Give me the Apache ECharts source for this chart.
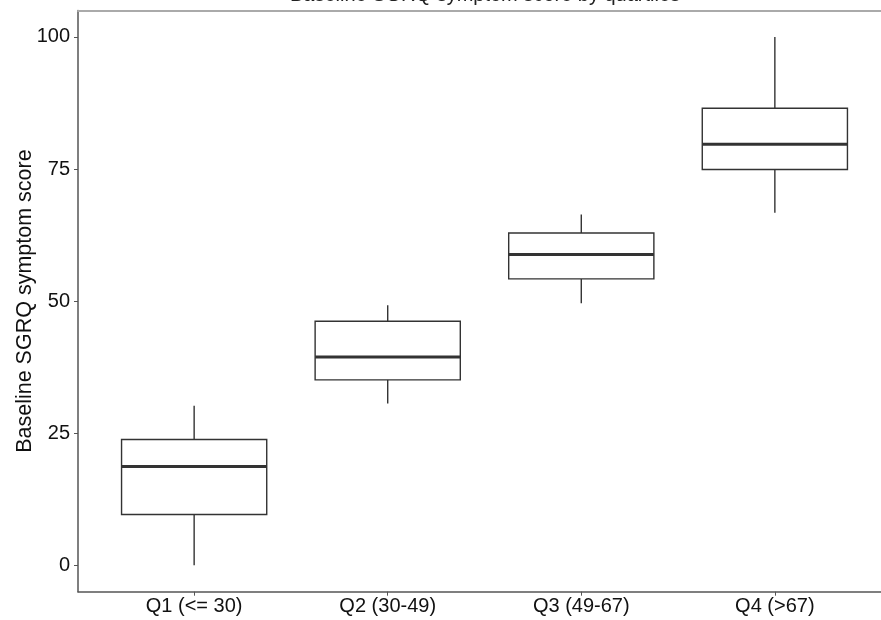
<html>
<head>
<meta charset="utf-8">
<title>Baseline SGRQ symptom score by quartiles</title>
<script src="https://cdn.jsdelivr.net/npm/echarts@6/dist/echarts.min.js"></script>
<style>
  body { margin: 0; background: #fff; }
  #container { width: 881px; height: 620px; }
</style>
</head>
<body>
<div id="container"></div>
<script type="text/javascript">
// data
var categories = ['Q1 (<= 30)', 'Q2 (30-49)', 'Q3 (49-67)', 'Q4 (>67)'];
var lowWhisker = [0, 30.6, 49.6, 66.7];
var boxLow = [9.6, 35.1, 54.2, 74.9];
var medians = [18.7, 39.4, 58.8, 79.7];
var boxHigh = [23.8, 46.2, 62.9, 86.5];
var highWhisker = [30.2, 49.2, 66.4, 100];
var yTicks = [0, 25, 50, 75, 100];

var rows = categories.map(function (c, i) {
  return [i + 1, lowWhisker[i], boxLow[i], medians[i], boxHigh[i], highWhisker[i]];
});

var font = "'Liberation Sans', Arial, sans-serif";
var dom = document.getElementById('container');
var myChart = echarts.init(dom);

function renderBox(params, api) {
  var x = api.value(0);
  var w = api.size([0.75, 0])[0];
  var pMin = api.coord([x, api.value(1)]);
  var pQ1 = api.coord([x, api.value(2)]);
  var pMed = api.coord([x, api.value(3)]);
  var pQ3 = api.coord([x, api.value(4)]);
  var pMax = api.coord([x, api.value(5)]);
  var lineStyle = { stroke: '#333', lineWidth: 1.4, fill: null };
  return {
    type: 'group',
    children: [
      { type: 'line', shape: { x1: pMin[0], y1: pMin[1], x2: pQ1[0], y2: pQ1[1] }, style: lineStyle },
      { type: 'line', shape: { x1: pQ3[0], y1: pQ3[1], x2: pMax[0], y2: pMax[1] }, style: lineStyle },
      { type: 'rect', shape: { x: pQ3[0] - w / 2, y: pQ3[1], width: w, height: pQ1[1] - pQ3[1] },
        style: { stroke: '#333', lineWidth: 1.4, fill: '#fff' } },
      { type: 'line', shape: { x1: pMed[0] - w / 2, y1: pMed[1], x2: pMed[0] + w / 2, y2: pMed[1] },
        style: { stroke: '#333', lineWidth: 3 } }
    ]
  };
}

var option = {
  animation: false,
  backgroundColor: '#fff',
  graphic: [{
    type: 'text',
    x: 485, y: 5.5,
    style: {
      text: 'Baseline SGRQ symptom score by quartiles',
      font: '20px ' + font,
      fill: '#222',
      textAlign: 'center',
      textVerticalAlign: 'bottom'
    }
  }],
  grid: { left: 78, right: -10, top: 10.5, bottom: 28.3, outerBoundsMode: 'none', containLabel: false },
  xAxis: [{
    type: 'value',
    min: 0.4, max: 4.6,
    splitLine: { show: false },
    axisLine: { show: true, onZero: false, lineStyle: { color: '#555', width: 1.5 } },
    axisTick: { show: true, length: 4, customValues: [1, 2, 3, 4], lineStyle: { color: '#555' } },
    axisLabel: {
      customValues: [1, 2, 3, 4],
      margin: 5,
      fontSize: 20, fontFamily: font, color: '#111',
      formatter: function (v) { return categories[Math.round(v) - 1]; }
    }
  }, {
    type: 'value',
    position: 'top',
    min: 0.4, max: 4.6,
    splitLine: { show: false },
    axisLine: { show: true, onZero: false, lineStyle: { color: '#aaa', width: 2 } },
    axisTick: { show: false },
    axisLabel: { show: false }
  }],
  yAxis: {
    type: 'value',
    min: -5, max: 105,
    name: 'Baseline SGRQ symptom score',
    nameLocation: 'middle',
    nameGap: 42,
    nameRotate: 90,
    nameMoveOverlap: false,
    nameTextStyle: { fontSize: 21.5, fontFamily: font, color: '#111' },
    splitLine: { show: false },
    axisLine: { show: true, onZero: false, lineStyle: { color: '#555', width: 1.5 } },
    axisTick: { show: true, length: 4, customValues: yTicks, lineStyle: { color: '#555' } },
    axisLabel: { customValues: yTicks, margin: 8, fontSize: 20, fontFamily: font, color: '#111' }
  },
  series: [{
    type: 'custom',
    renderItem: renderBox,
    encode: { x: 0, y: [1, 2, 3, 4, 5] },
    data: rows
  }]
};

if (option && typeof option === 'object') {
  myChart.setOption(option);
}
</script>
</body>
</html>
